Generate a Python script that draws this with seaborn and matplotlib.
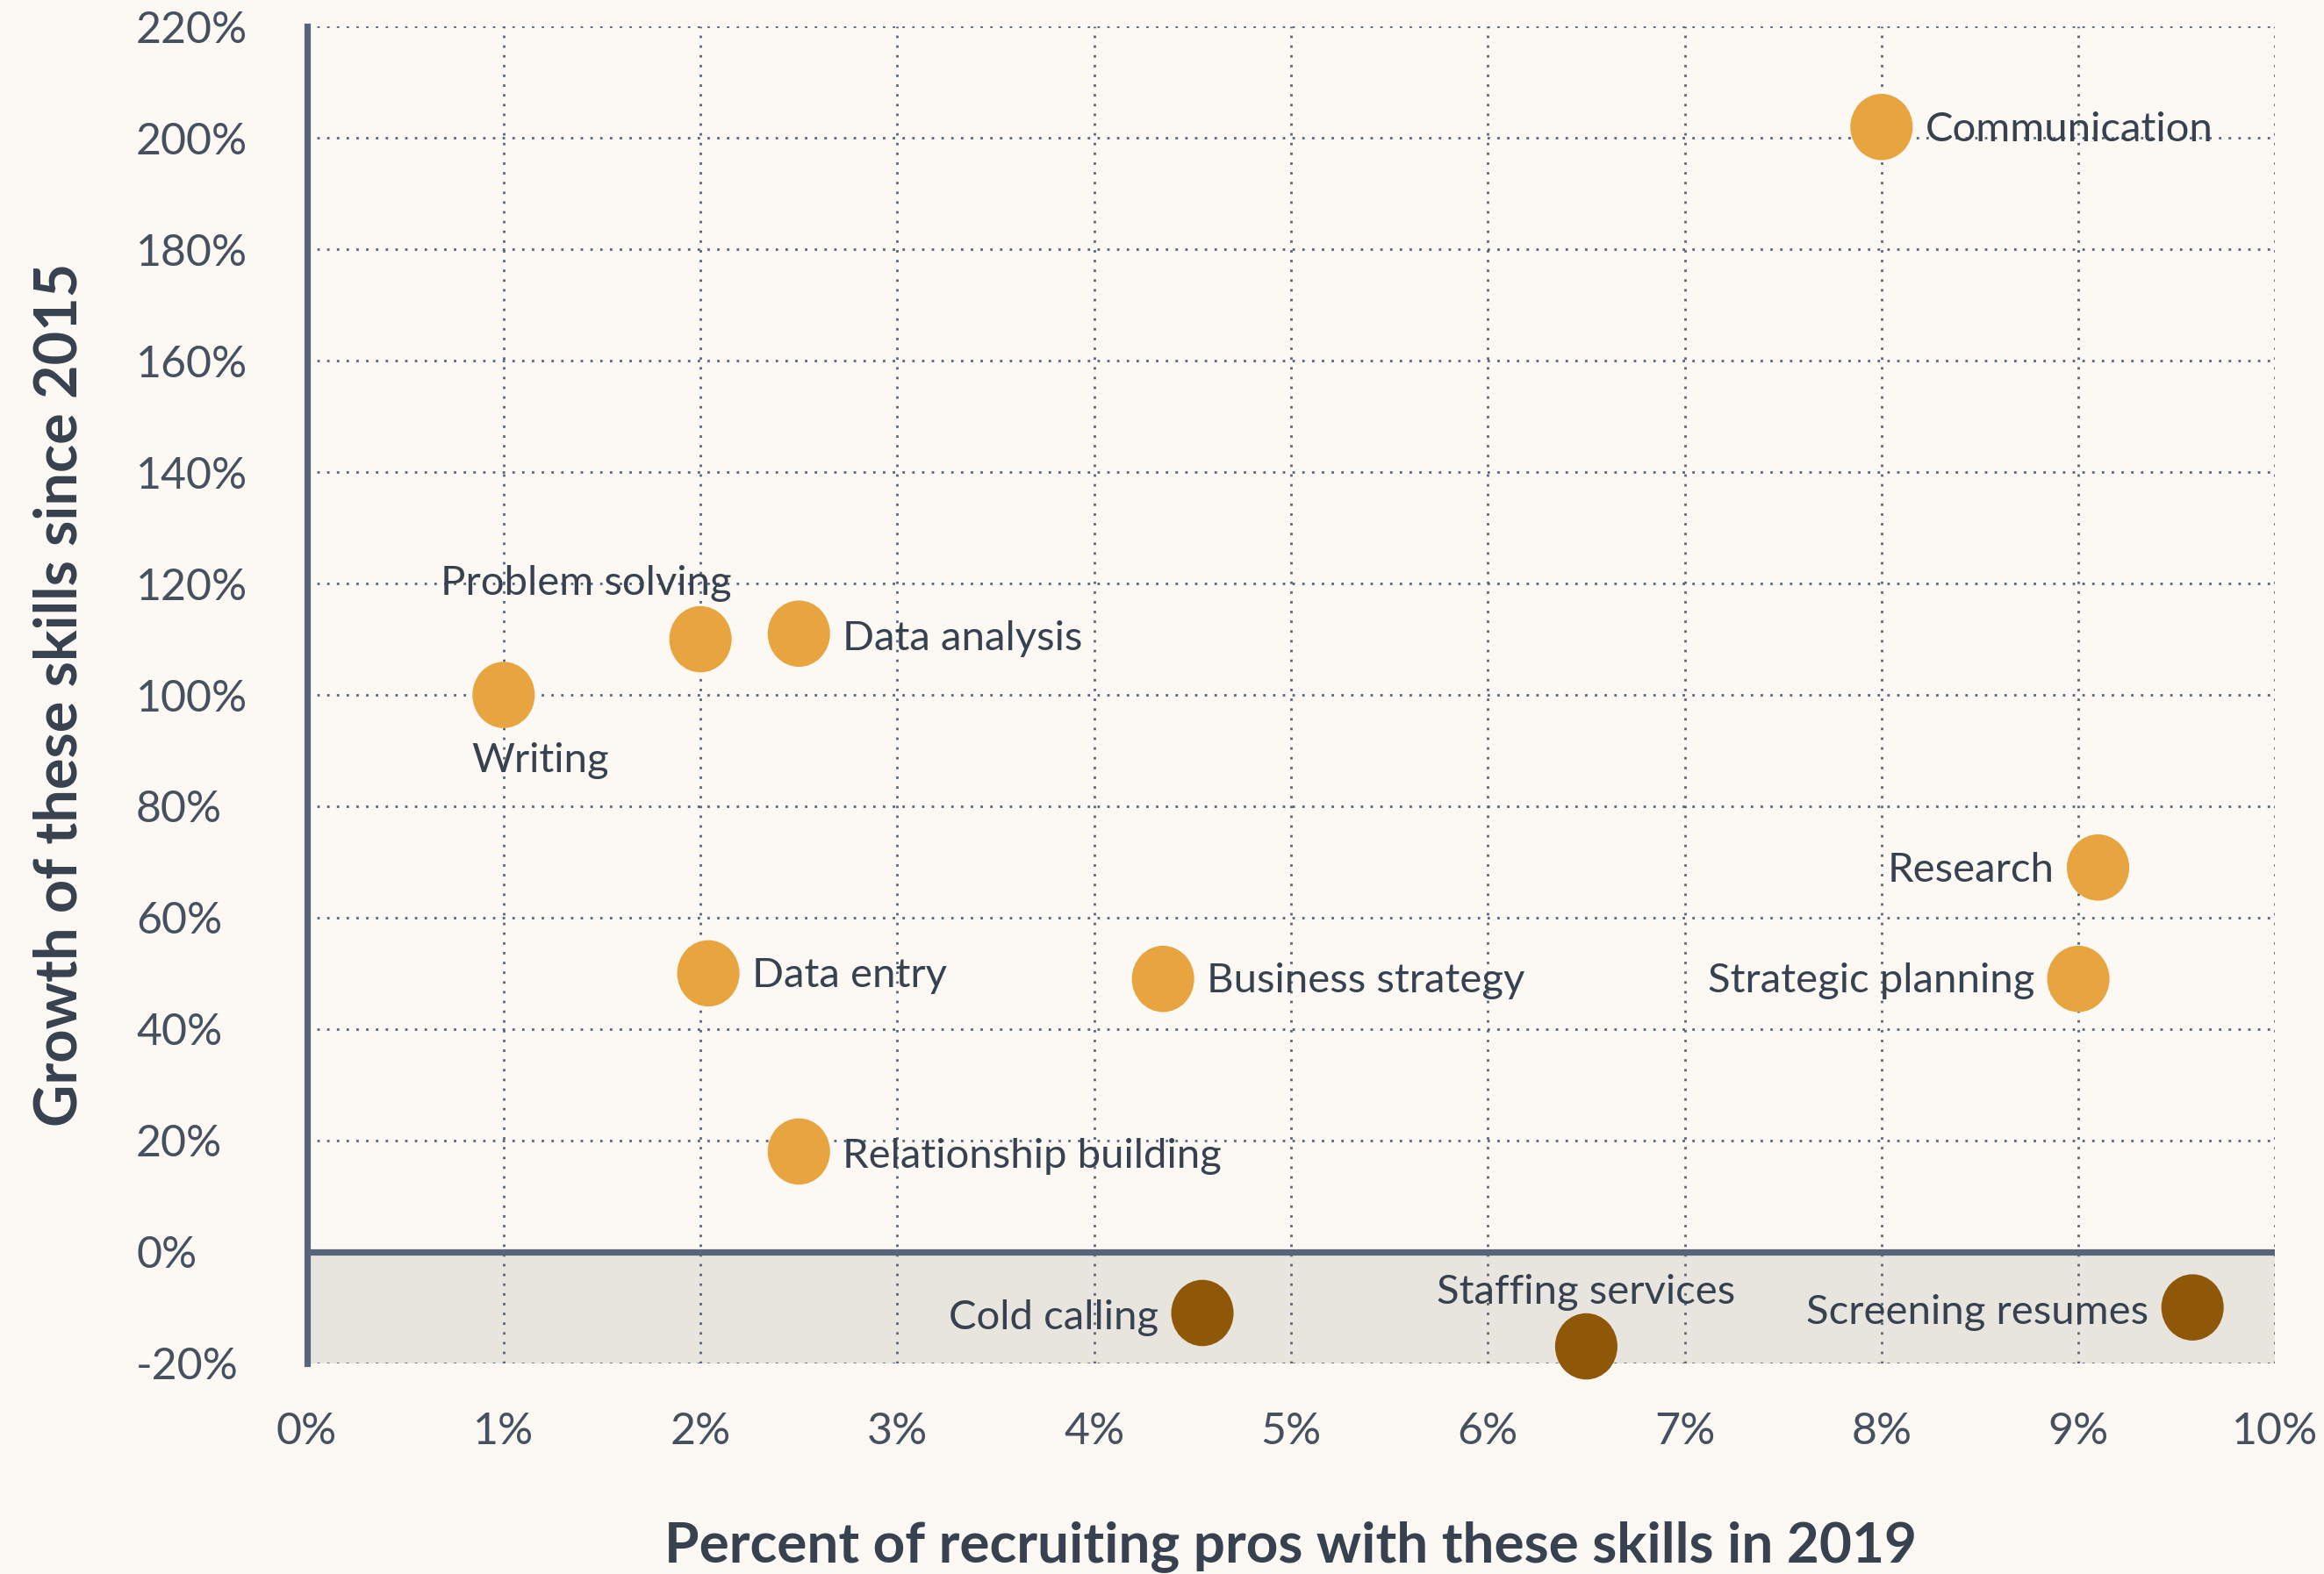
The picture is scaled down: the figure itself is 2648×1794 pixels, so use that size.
import matplotlib
matplotlib.use('Agg')
import matplotlib.pyplot as plt
import pandas as pd
import seaborn as sns
from matplotlib.path import Path
from matplotlib.transforms import Affine2D
from matplotlib.ticker import FuncFormatter, MultipleLocator

SKILLS = ['Communication', 'Research', 'Strategic planning', 'Business strategy',
          'Data entry', 'Relationship building', 'Problem solving', 'Data analysis',
          'Writing', 'Cold calling', 'Staffing services', 'Screening resumes']
SHARE_2019 = [8.0, 9.1, 9.0, 4.35, 2.04, 2.5, 2.0, 2.5, 1.0, 4.55, 6.5, 9.58]
GROWTH = [202, 69, 49, 49, 50, 18, 110, 111, 100, -11, -17, -10]
TREND = ['up'] * 9 + ['down'] * 3

# where each label sits relative to its dot: (dx, dy) in points, horizontal alignment
LABEL_POS = {
    'Communication': (18, -1, 'left'),
    'Research': (-18, -1, 'right'),
    'Strategic planning': (-18, -1, 'right'),
    'Business strategy': (18, -1, 'left'),
    'Data entry': (18, -1, 'left'),
    'Relationship building': (18, -2, 'left'),
    'Problem solving': (-47, 23, 'center'),
    'Data analysis': (18, -2, 'left'),
    'Writing': (15, -27, 'center'),
    'Cold calling': (-18, -2, 'right'),
    'Staffing services': (0, 22, 'center'),
    'Screening resumes': (-18, -2, 'right'),
}

BG = '#FCF9F4'
TEXT = '#37414F'
AXIS = '#566579'
PALETTE = {'up': '#E7A43F', 'down': '#8F5708'}

df = pd.DataFrame({'skill': SKILLS, 'share': SHARE_2019, 'growth': GROWTH, 'trend': TREND})

sns.set_theme(style='white')
plt.rcParams['font.family'] = ['Lato', 'DejaVu Sans']

fig = plt.figure(figsize=(13.24, 8.97), dpi=200, facecolor=BG)
ax = fig.add_axes([0.132, 0.134, 0.847, 0.849])
ax.set_facecolor(BG)

ax.set_xlim(0, 10)
ax.set_ylim(-20, 220)

# shaded band for declining skills
ax.axhspan(-20, 0, color='#E8E5DF', zorder=0, lw=0)

ax.xaxis.set_major_locator(MultipleLocator(1))
ax.yaxis.set_major_locator(MultipleLocator(20))
ax.grid(True, linestyle=(0, (1, 3)), color=AXIS, linewidth=1.0, zorder=1)
ax.set_axisbelow(True)

for side in ['top', 'right', 'bottom']:
    ax.spines[side].set_visible(False)
ax.spines['left'].set_color(AXIS)
ax.spines['left'].set_linewidth(2.6)
ax.axhline(0, color=AXIS, linewidth=2.6, zorder=2)

ellipse = Path.unit_circle().transformed(Affine2D().scale(0.94, 1.0))
sns.scatterplot(data=df, x='share', y='growth', hue='trend', palette=PALETTE,
                marker=ellipse, s=740, linewidth=0, legend=False, ax=ax, zorder=5,
                clip_on=False)

for skill, x, y in zip(SKILLS, SHARE_2019, GROWTH):
    dx, dy, ha = LABEL_POS[skill]
    ax.annotate(skill, (x, y), xytext=(dx, dy), textcoords='offset points',
                ha=ha, va='center', fontsize=17, color=TEXT, zorder=6)

ax.xaxis.set_major_formatter(FuncFormatter(lambda v, _: f'{v:.0f}%'))
ax.yaxis.set_major_formatter(FuncFormatter(lambda v, _: f'{v:.0f}%'))
ax.tick_params(axis='both', length=0, labelsize=18, labelcolor='#46505E')
ax.tick_params(axis='y', pad=70)
ax.tick_params(axis='x', pad=20)
for t in ax.get_yticklabels():
    t.set_ha('left')

ax.set_xlabel('Percent of recruiting pros with these skills in 2019', fontsize=23,
              fontweight='bold', color=TEXT, labelpad=28)
ax.set_ylabel('Growth of these skills since 2015', fontsize=24,
              fontweight='bold', color=TEXT, labelpad=20)

fig.savefig('out.png', dpi=200, facecolor=BG)
